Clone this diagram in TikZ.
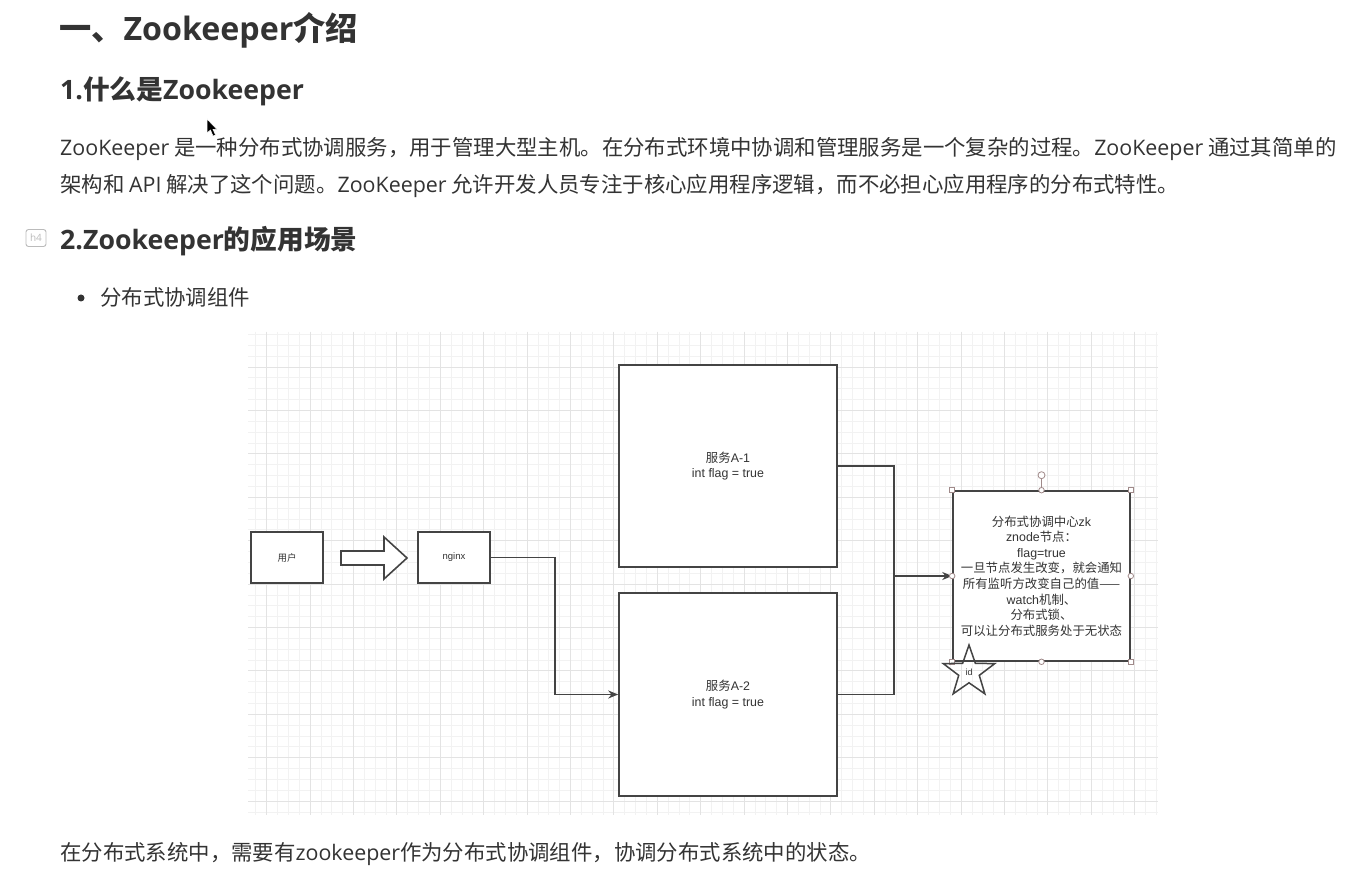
\documentclass[tikz,border=0pt]{standalone}
\usepackage{fontspec}
\setmainfont{Noto Sans CJK SC}
\newfontfamily\os{Open Sans}
\newfontfamily\hv{Liberation Sans}
\usetikzlibrary{arrows.meta,shapes.geometric,calc}
\definecolor{txt}{HTML}{333333}
\definecolor{ln}{HTML}{444444}
\definecolor{gminor}{HTML}{F2F2F2}
\definecolor{gmajor}{HTML}{E3E3E3}
\definecolor{hdl}{HTML}{A08A8A}
\definecolor{iconc}{HTML}{BBBBBB}
\tikzset{
  box/.style={draw=ln, line width=1.6pt, fill=white, inner sep=0pt, align=center, text=txt,
    font=\fontsize{12.4}{15.6}\selectfont},
  smallbox/.style={box, minimum width=72pt, minimum height=51pt, font=\fontsize{9.5}{11}\selectfont},
  bigbox/.style={box, minimum width=218pt, minimum height=202pt},
  conn/.style={draw=ln, line width=1.6pt},
  arr/.style={conn, -{Stealth[length=10pt,width=8pt]}},
  para/.style={anchor=base west, inner sep=0pt, text=txt, font=\fontsize{21.4}{26}\selectfont},
  head/.style={anchor=base west, inner sep=0pt, text=txt, font=\fontsize{26.7}{32}\selectfont\bfseries},
  hsq/.style={draw=hdl, fill=white, line width=0.8pt, minimum size=5pt, inner sep=0pt},
  hci/.style={circle, draw=hdl, fill=white, line width=0.8pt, minimum size=5.5pt, inner sep=0pt},
}
\begin{document}
\begin{tikzpicture}[x=1pt,y=-1pt]
\useasboundingbox (0,0) rectangle (1352,882);
\fill[white] (0,0) rectangle (1352,882);

% headings and text
\node[anchor=base west, inner sep=0pt, text=txt, font=\fontsize{32.2}{38}\selectfont\bfseries] (title) at (59,41) {一、{\os Zookeeper}介绍};
\node[head] (h1) at (60,100) {{\os 1.}什么是{\os Zookeeper}};
\node[para] (p1) at (60,156) {{\os ZooKeeper} 是一种分布式协调服务，用于管理大型主机。在分布式环境中协调和管理服务是一个复杂的过程。{\os ZooKeeper} 通过其简单的};
\node[para] (p2) at (60,193) {架构和 {\os API} 解决了这个问题。{\os ZooKeeper} 允许开发人员专注于核心应用程序逻辑，而不必担心应用程序的分布式特性。};
\node[draw=iconc, rounded corners=2.5pt, line width=0.9pt, minimum width=20pt, minimum height=17pt, inner sep=0pt, text=iconc, font=\os\fontsize{10}{11}\selectfont] (h4icon) at (36,238) {h4};
\node[head] (h2) at (60,250) {{\os 2.Zookeeper}的应用场景};
\node[circle, fill=txt, minimum size=7pt, inner sep=0pt] (dot) at (81,298) {};
\node[para] (b1) at (100,306) {分布式协调组件};
\node[para] (last) at (60,860) {在分布式系统中，需要有{\os zookeeper}作为分布式协调组件，协调分布式系统中的状态。};

% mouse cursor
\filldraw[fill=black, draw=white, line width=0.5pt] (207,119) -- (207,133) -- (210.5,130) -- (213,136) -- (215.5,135) -- (213,129.5) -- (217,129.5) -- cycle;

% grid
\begin{scope}
\clip (248,332) rectangle (1158,815);
\foreach \i in {0,...,83} \draw[gminor, line width=0.7pt] ({255.75+\i*10.85},332) -- ({255.75+\i*10.85},815);
\foreach \j in {0,...,44} \draw[gminor, line width=0.7pt] (248,{334.45+\j*10.85}) -- (1158,{334.45+\j*10.85});
\foreach \i in {1,5,...,81} \draw[gmajor, line width=0.8pt] ({255.75+\i*10.85},332) -- ({255.75+\i*10.85},815);
\foreach \j in {3,7,...,43} \draw[gmajor, line width=0.8pt] (248,{334.45+\j*10.85}) -- (1158,{334.45+\j*10.85});
\end{scope}

% nodes
\node[smallbox] (user) at (287,557.5) {用户};
\node[smallbox] (nginx) at (454,557.5) {\hv nginx};
\node[bigbox] (a1) at (728,466) {服务{\hv A-1}\\{\hv int flag = true}};
\node[bigbox, minimum height=203pt] (a2) at (728,694.5) {服务{\hv A-2}\\{\hv int flag = true}};
\node[box, minimum width=177pt, minimum height=170pt] (zk) at (1041.5,576) {分布式协调中心{\hv zk}\\{\hv znode}节点：\\{\hv flag=true}\\一旦节点发生改变，就会通知\\所有监听方改变自己的值——\\{\hv watch}机制、\\分布式锁、\\可以让分布式服务处于无状态};

% block arrow user -> nginx
\draw[conn, fill=white, line join=miter] (341,551) -- (384,551) -- (384,537) -- (407,558) -- (384,579) -- (384,565) -- (341,565) -- cycle;

% connectors
\coordinate (j1) at (555,0);
\coordinate (j2) at (894,0);
\draw[arr] (nginx.east) -| (j1 |- a2.west) -- (a2.west);
\draw[arr] (a1.east) -| (j2 |- zk.west) -- (zk.west);
\draw[conn] (a2.east) -| (j2 |- zk.west);

% selection handles
\coordinate (rot) at ($(zk.north)+(0,-15)$);
\draw[hdl, line width=0.8pt] (zk.north) -- (rot);
\node[hci, minimum size=7pt] (rh) at (rot) {};
\foreach \a in {north west, north east, south west, south east} \node[hsq] at (zk.\a) {};
\foreach \a in {north, south, east, west} \node[hci] at (zk.\a) {};

% star
\node[star, star points=5, star point ratio=2.5, draw=ln, line width=1.5pt, minimum size=54pt, inner sep=0pt, text=txt, font=\hv\fontsize{9}{10}\selectfont] (idstar) at (969,672) {id};
\end{tikzpicture}
\end{document}
